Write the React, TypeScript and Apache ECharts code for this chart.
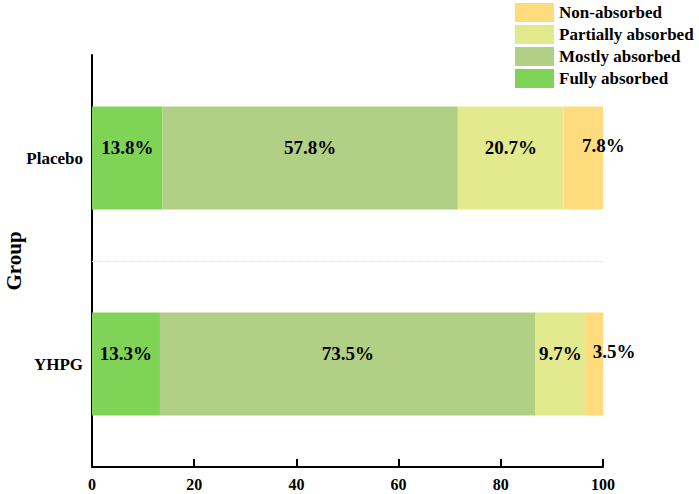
import React, { useEffect, useRef } from "react";
import * as echarts from "echarts";

const categories = ["YHPG", "Placebo"];
const seriesNames = ["Fully absorbed", "Mostly absorbed", "Partially absorbed", "Non-absorbed"];
const fullyAbsorbed = [13.3, 13.8];
const mostlyAbsorbed = [73.5, 57.8];
const partiallyAbsorbed = [9.7, 20.7];
const nonAbsorbed = [3.5, 7.8];
const xTicks = [0, 20, 40, 60, 80, 100];
// separator between the two category bands (band index units)
const bandSeparator = [1];

const colors = ["#7fd357", "#b1cf85", "#e2ea8d", "#fedc7d"];
const FONT = "Liberation Serif";

export default function App() {
  const ref = useRef<HTMLDivElement>(null);
  useEffect(() => {
    document.body.style.margin = "0";
    if (!ref.current) return;
    const chart = echarts.init(ref.current, null, { renderer: "svg" });
    const values = [fullyAbsorbed, mostlyAbsorbed, partiallyAbsorbed, nonAbsorbed];
    const series: any[] = seriesNames.map((name, i) => ({
      name,
      type: "bar",
      stack: "total",
      barWidth: "50%",
      data: values[i],
      itemStyle: { color: colors[i] },
      label: {
        show: true,
        position: "inside",
        formatter: "{c}%",
        color: "#000",
        fontFamily: FONT,
        fontWeight: "bold",
        fontSize: 19,
        offset: i === 3 ? [20, -13] : [0, -11],
      },
    }));
    series.push({
      name: "separator",
      type: "line",
      yAxisIndex: 1,
      data: [],
      silent: true,
      markLine: {
        silent: true,
        symbol: "none",
        label: { show: false },
        lineStyle: { color: "#dcdcdc", type: "dotted", width: 1 },
        data: bandSeparator.map((v) => ({ yAxis: v })),
      },
    });
    chart.setOption({
      animation: false,
      backgroundColor: "#fff",
      textStyle: { fontFamily: FONT },
      legend: {
        orient: "vertical",
        left: 510,
        top: -2,
        itemWidth: 39,
        itemHeight: 19,
        itemGap: 3,
        data: [...seriesNames].reverse(),
        textStyle: { fontFamily: FONT, fontWeight: "bold", fontSize: 17, color: "#000" },
        icon: "rect",
      },
      grid: { left: 92, right: 96, top: 55, bottom: 27, containLabel: false, outerBoundsMode: "none" },
      xAxis: {
        type: "value",
        min: xTicks[0],
        max: xTicks[xTicks.length - 1],
        interval: 20,
        axisLine: { show: true, lineStyle: { color: "#000", width: 2 } },
        axisTick: { show: true, inside: true, length: 8, lineStyle: { color: "#000", width: 2 } },
        axisLabel: { color: "#000", fontFamily: FONT, fontWeight: "bold", fontSize: 16, margin: 9 },
        splitLine: { show: false },
      },
      yAxis: [
        {
          type: "category",
          data: categories,
          name: "Group",
          nameLocation: "middle",
          nameGap: 68,
          nameMoveOverlap: false,
          nameTextStyle: { color: "#000", fontFamily: FONT, fontWeight: "bold", fontSize: 21 },
          axisLine: { show: true, lineStyle: { color: "#000", width: 2 } },
          axisTick: { show: true, inside: true, length: 7, alignWithLabel: true, lineStyle: { color: "#000", width: 2 } },
          axisLabel: { color: "#000", fontFamily: FONT, fontWeight: "bold", fontSize: 17, margin: 9 },
          splitLine: { show: false },
        },
        {
          type: "value",
          min: 0,
          max: 2,
          show: false,
          splitLine: { show: false },
        },
      ],
      series,
    });
    return () => chart.dispose();
  }, []);
  return <div ref={ref} style={{ width: 699, height: 494 }} />;
}
